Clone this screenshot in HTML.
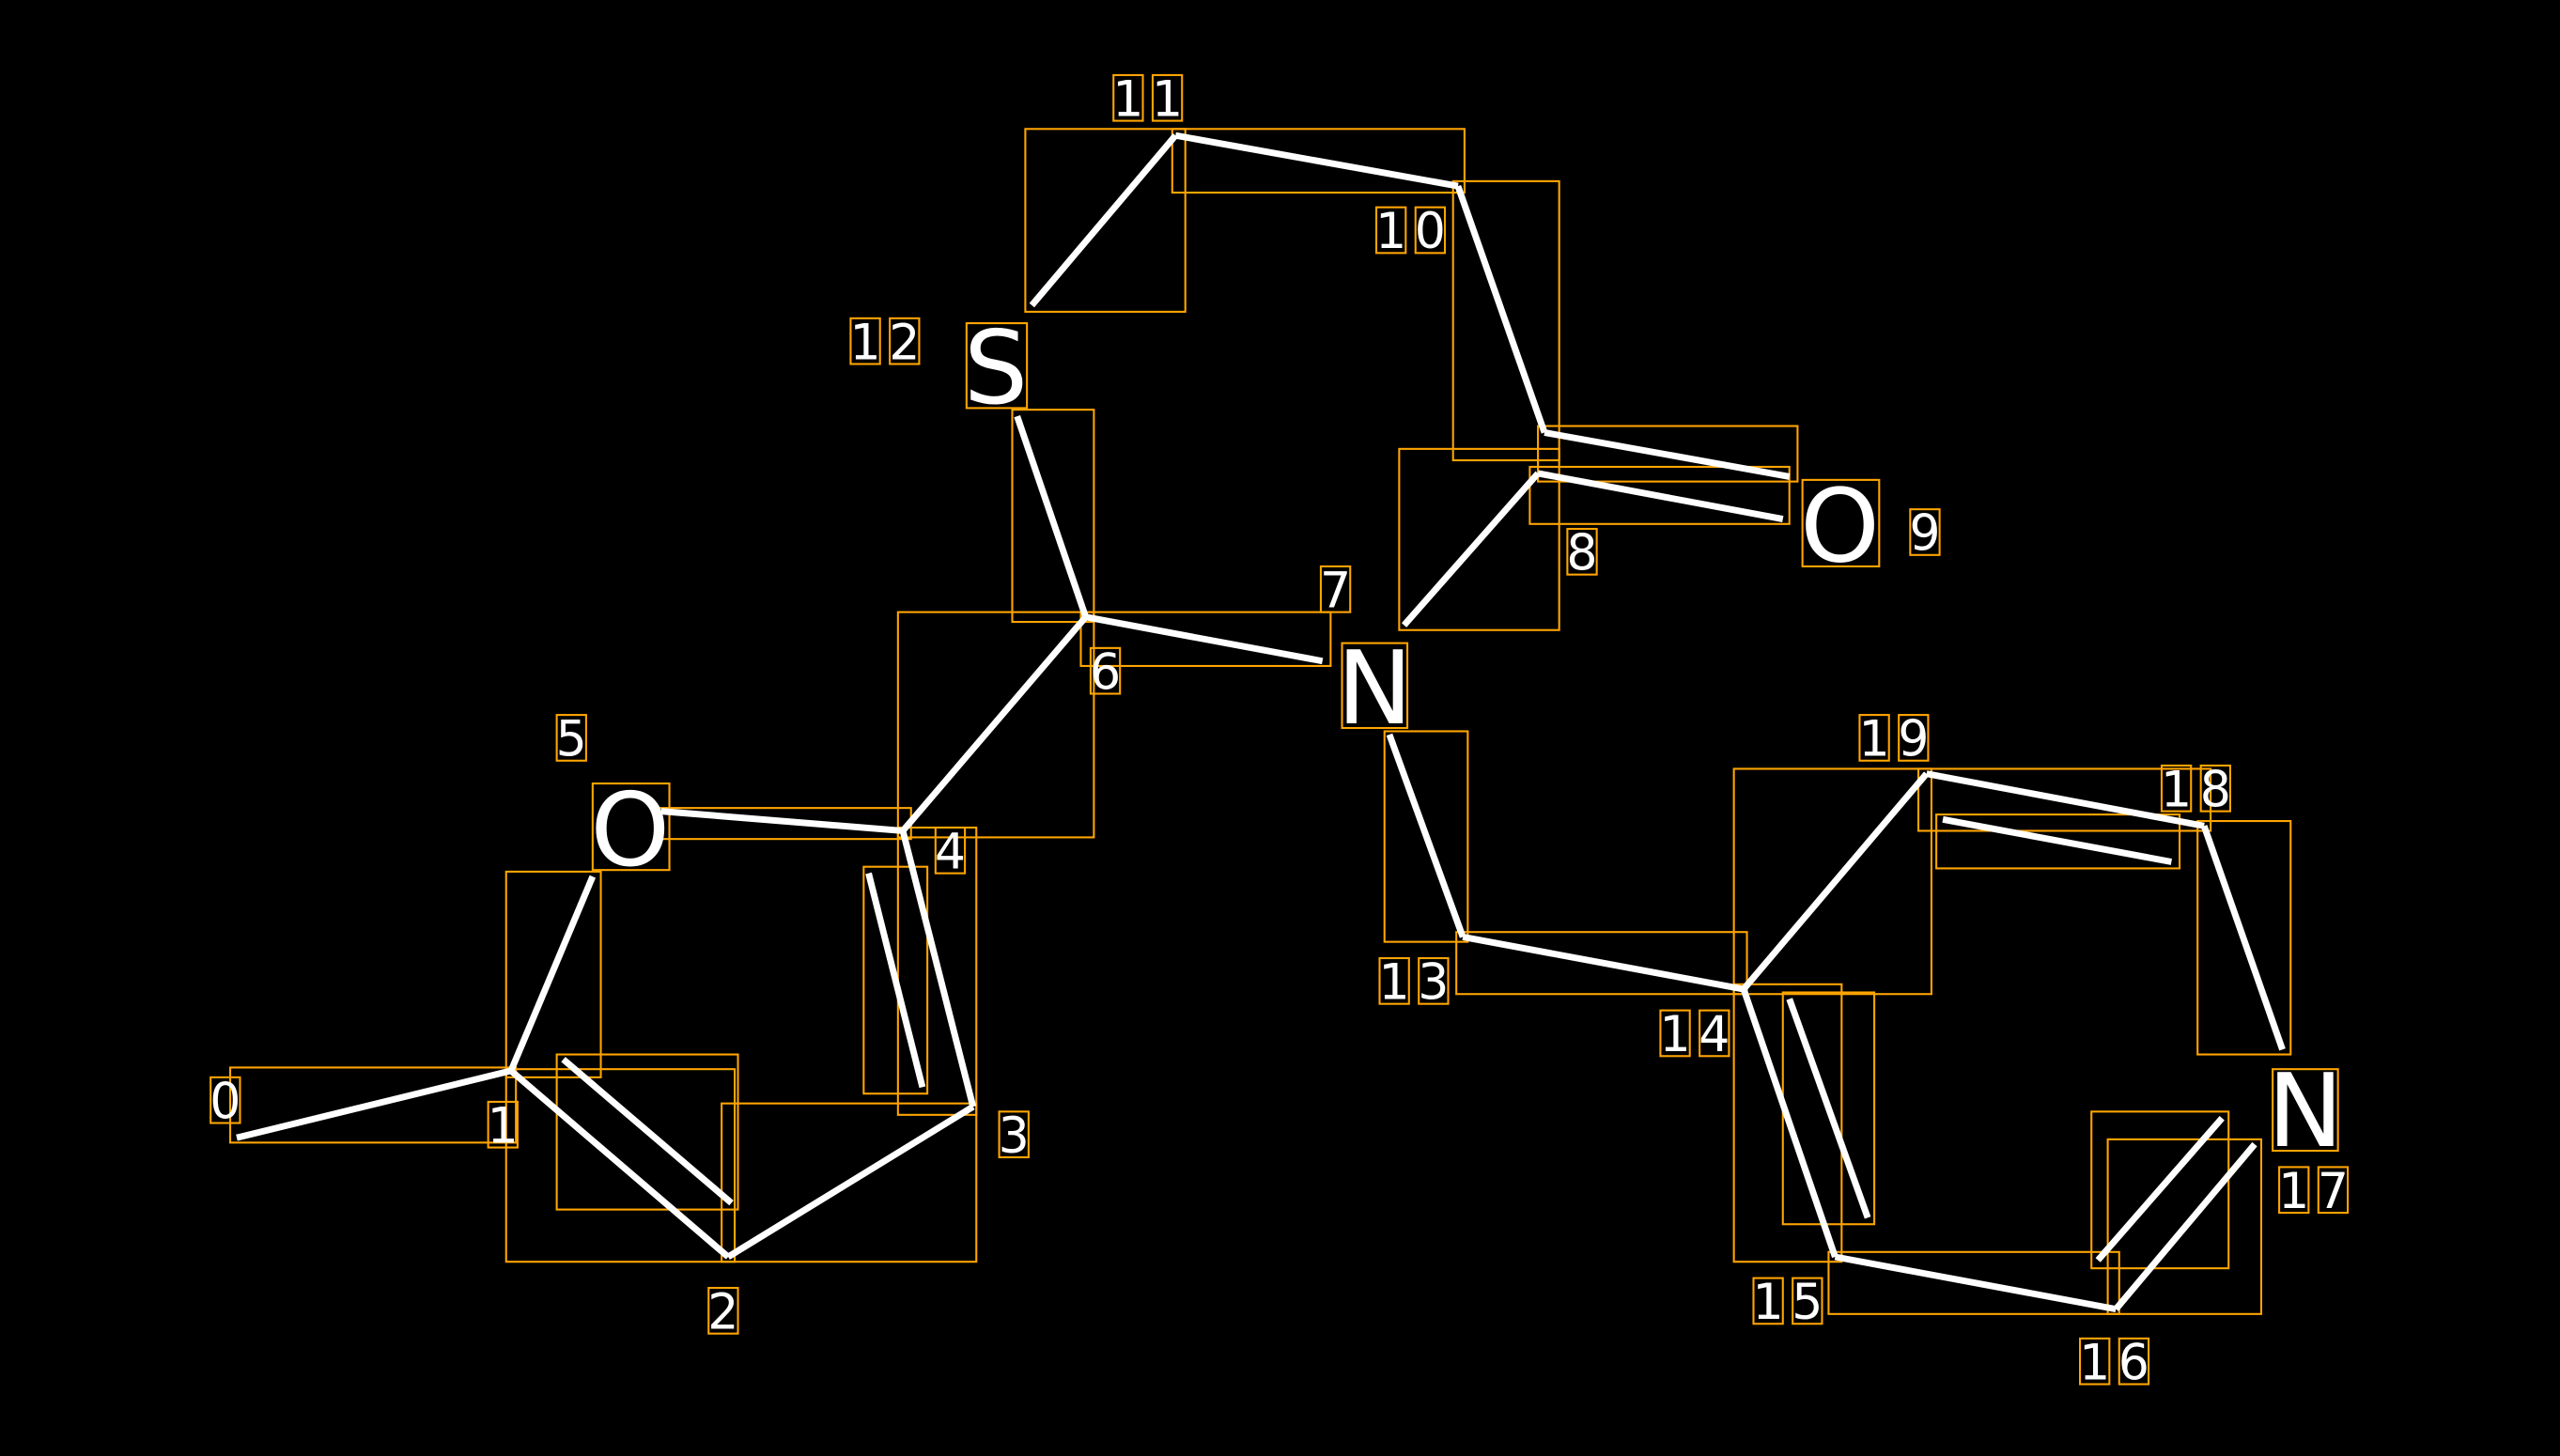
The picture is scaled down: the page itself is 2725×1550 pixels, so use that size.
<!DOCTYPE html>
<html><head><meta charset="utf-8"><style>html,body{margin:0;padding:0;background:#000;}svg{display:block}</style></head>
<body>
<svg width="2725" height="1550" viewBox="0 0 1568 892" preserveAspectRatio="none" xmlns="http://www.w3.org/2000/svg">
<rect width="1568" height="892" fill="#000"/>
<g fill="none" stroke="#FFA500" stroke-width="1.2">
<rect x="141" y="654" width="175" height="46"/>
<rect x="310" y="534" width="58" height="126"/>
<rect x="310" y="655" width="140" height="118"/>
<rect x="341" y="646" width="111" height="95"/>
<rect x="442" y="676" width="156" height="97"/>
<rect x="550" y="507" width="48" height="176"/>
<rect x="529" y="531" width="39" height="139"/>
<rect x="403" y="495" width="155" height="19"/>
<rect x="550" y="375" width="120" height="138"/>
<rect x="620" y="251" width="50" height="130"/>
<rect x="662" y="375" width="153" height="33"/>
<rect x="628" y="79" width="98" height="112"/>
<rect x="718" y="79" width="179" height="39"/>
<rect x="890" y="111" width="65" height="171"/>
<rect x="942" y="261" width="159" height="34"/>
<rect x="937" y="286" width="159" height="35"/>
<rect x="857" y="275" width="98" height="111"/>
<rect x="848" y="448" width="51" height="129"/>
<rect x="892" y="571" width="178" height="38"/>
<rect x="1062" y="471" width="121" height="138"/>
<rect x="1175" y="471" width="179" height="38"/>
<rect x="1186" y="499" width="149" height="33"/>
<rect x="1346" y="503" width="57" height="143"/>
<rect x="1062" y="603" width="66" height="170"/>
<rect x="1092" y="608" width="56" height="142"/>
<rect x="1120" y="767" width="178" height="38"/>
<rect x="1291" y="698" width="94" height="107"/>
<rect x="1281" y="681" width="84" height="96"/>
<!-- atom boxes -->
<rect x="363" y="480" width="47" height="53"/>
<rect x="592" y="198" width="37" height="52"/>
<rect x="1104" y="294" width="47" height="53"/>
<rect x="822" y="394" width="40" height="52"/>
<rect x="1392" y="655" width="40" height="50"/>
</g>
<g stroke="#fff" stroke-width="4" stroke-linecap="butt">
<line x1="145" y1="697" x2="313" y2="656"/>
<line x1="313" y1="656" x2="446" y2="770"/>
<line x1="345" y1="649" x2="448" y2="737"/>
<line x1="446" y1="770" x2="596" y2="678"/>
<line x1="596" y1="678" x2="553" y2="509"/>
<line x1="565" y1="666" x2="532" y2="535"/>
<line x1="553" y1="509" x2="405" y2="497"/>
<line x1="363" y1="537" x2="313" y2="656"/>
<line x1="553" y1="509" x2="665" y2="378"/>
<line x1="665" y1="378" x2="810" y2="405"/>
<line x1="665" y1="378" x2="623" y2="255"/>
<line x1="632" y1="187" x2="720" y2="83"/>
<line x1="720" y1="83" x2="893" y2="114"/>
<line x1="893" y1="114" x2="946" y2="265"/>
<line x1="946" y1="265" x2="1096" y2="292"/>
<line x1="942" y1="290" x2="1092" y2="318"/>
<line x1="942" y1="290" x2="860" y2="383"/>
<line x1="851" y1="450" x2="896" y2="574"/>
<line x1="896" y1="574" x2="1068" y2="606"/>
<line x1="1068" y1="606" x2="1180" y2="474"/>
<line x1="1180" y1="474" x2="1350" y2="506"/>
<line x1="1190" y1="502" x2="1330" y2="528"/>
<line x1="1350" y1="506" x2="1398" y2="643"/>
<line x1="1068" y1="606" x2="1124" y2="770"/>
<line x1="1096" y1="612" x2="1144" y2="746"/>
<line x1="1124" y1="770" x2="1296" y2="802"/>
<line x1="1296" y1="802" x2="1381" y2="701"/>
<line x1="1285" y1="772" x2="1361" y2="685"/>
</g>
<g font-family="DejaVu Sans, sans-serif" fill="#fff" text-anchor="middle" font-size="62">
<text x="386" y="530">O</text>
<text x="610" y="247">S</text>
<text x="1127" y="344">O</text>
<text x="842" y="443">N</text>
<text x="1412" y="702">N</text>
</g>
<g font-family="DejaVu Sans, sans-serif" fill="#fff" text-anchor="middle" font-size="30">
<text x="138" y="685">0</text>
<text x="308" y="700">1</text>
<text x="443" y="814">2</text>
<text x="621" y="706">3</text>
<text x="582" y="532">4</text>
<text x="350" y="463">5</text>
<text x="677" y="422">6</text>
<text x="818" y="372">7</text>
<text x="969" y="349">8</text>
<text x="1179" y="337">9</text>
<text x="852" y="152">1</text><text x="876" y="152">0</text>
<text x="691" y="71">1</text><text x="715" y="71">1</text>
<text x="530" y="220">1</text><text x="554" y="220">2</text>
<text x="854" y="612">1</text><text x="878" y="612">3</text>
<text x="1026" y="644">1</text><text x="1050" y="644">4</text>
<text x="1083" y="808">1</text><text x="1107" y="808">5</text>
<text x="1283" y="845">1</text><text x="1307" y="845">6</text>
<text x="1405" y="740">1</text><text x="1429" y="740">7</text>
<text x="1333" y="494">1</text><text x="1357" y="494">8</text>
<text x="1148" y="463">1</text><text x="1172" y="463">9</text>
</g>
<g fill="none" stroke="#FFA500" stroke-width="1.2">
<rect x="129" y="660" width="18" height="28"/>
<rect x="299" y="675" width="18" height="28"/>
<rect x="434" y="789" width="18" height="28"/>
<rect x="612" y="681" width="18" height="28"/>
<rect x="573" y="507" width="18" height="28"/>
<rect x="341" y="438" width="18" height="28"/>
<rect x="668" y="397" width="18" height="28"/>
<rect x="809" y="347" width="18" height="28"/>
<rect x="960" y="324" width="18" height="28"/>
<rect x="1170" y="312" width="18" height="28"/>
<rect x="843" y="127" width="18" height="28"/><rect x="867" y="127" width="18" height="28"/>
<rect x="682" y="46" width="18" height="28"/><rect x="706" y="46" width="18" height="28"/>
<rect x="521" y="195" width="18" height="28"/><rect x="545" y="195" width="18" height="28"/>
<rect x="845" y="587" width="18" height="28"/><rect x="869" y="587" width="18" height="28"/>
<rect x="1017" y="619" width="18" height="28"/><rect x="1041" y="619" width="18" height="28"/>
<rect x="1074" y="783" width="18" height="28"/><rect x="1098" y="783" width="18" height="28"/>
<rect x="1274" y="820" width="18" height="28"/><rect x="1298" y="820" width="18" height="28"/>
<rect x="1396" y="715" width="18" height="28"/><rect x="1420" y="715" width="18" height="28"/>
<rect x="1324" y="469" width="18" height="28"/><rect x="1348" y="469" width="18" height="28"/>
<rect x="1139" y="438" width="18" height="28"/><rect x="1163" y="438" width="18" height="28"/>
</g>
</svg>
</body></html>
